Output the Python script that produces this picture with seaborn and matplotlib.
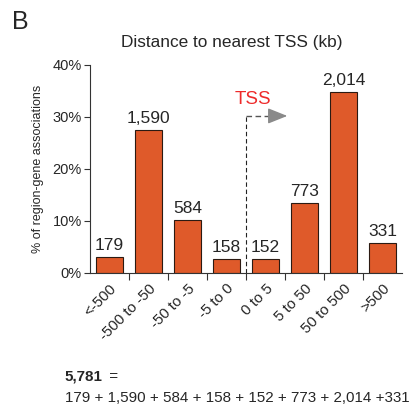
import pandas as pd
import matplotlib
matplotlib.use('Agg')
import matplotlib.pyplot as plt
import seaborn as sns

sns.set_theme(style="white")
plt.rcParams['font.family'] = ['Liberation Sans', 'DejaVu Sans']

# Data
categories = ['<-500', '-500 to -50', '-50 to -5', '-5 to 0', '0 to 5', '5 to 50', '50 to 500', '>500']
counts = [179, 1590, 584, 158, 152, 773, 2014, 331]
total = 5781

df = pd.DataFrame({'bin': categories, 'count': counts})
df['pct'] = df['count'] / total * 100

fig = plt.figure(figsize=(4.1, 4.16), dpi=100)
ax = fig.add_axes([0.2195, 0.3438, 0.761, 0.5])

sns.barplot(data=df, x='bin', y='pct', order=categories, color='#df5a2a',
            saturation=1, width=0.7, edgecolor='#2b1a12', linewidth=0.8, ax=ax)

ax.bar_label(ax.containers[0], labels=[f"{c:,}" for c in counts], padding=3, fontsize=12.5)

ax.set_xlim(-0.5, 7.5)
ax.set_ylim(0, 40)
ax.set_yticks([0, 10, 20, 30, 40])
ax.set_yticklabels(['0%', '10%', '20%', '30%', '40%'], fontsize=10.5)
ax.set_xticks(range(len(categories)))
ax.set_xticklabels(categories, rotation=45, ha='right', rotation_mode='anchor', fontsize=10.8)
ax.set_xticks([i + 0.5 for i in range(7)], minor=True)
ax.tick_params(axis='x', which='major', length=0, pad=6)
ax.tick_params(axis='x', which='minor', length=5, width=0.8, color='#333333', direction='out', bottom=True)
ax.tick_params(axis='y', length=4, width=0.8, color='#333333', direction='out', left=True, pad=2)
ax.set_xlabel('')
ax.set_ylabel('% of region-gene associations', fontsize=9, labelpad=6)

for s in ['top', 'right']:
    ax.spines[s].set_visible(False)
for s in ['left', 'bottom']:
    ax.spines[s].set_color('#333333')
    ax.spines[s].set_linewidth(0.8)

# TSS marker
tss_y = 30.2
ax.plot([3.5, 3.5], [0, tss_y], ls='--', color='#222222', lw=0.8, dashes=(4, 2.5))
ax.plot([3.5, 4.2], [tss_y, tss_y], ls='--', color='#555555', lw=1, dashes=(4, 2.5))
ax.annotate('', xy=(4.63, tss_y), xytext=(4.18, tss_y),
            arrowprops=dict(arrowstyle='-|>,head_length=1.0,head_width=0.4', color='#8a8a8a', lw=1))
ax.text(3.68, 33.3, 'TSS', color='#ee2a2a', fontsize=13.5, ha='center', va='center')

fig.text(0.566, 0.899, 'Distance to nearest TSS (kb)', ha='center', va='center', fontsize=12.4)
fig.text(0.03, 0.947, 'B', ha='left', va='center', fontsize=18)

fs = 10.9
fig.text(0.158, 0.094, '5,781', fontweight='bold', ha='left', va='center', fontsize=fs)
fig.text(0.158 + 0.097, 0.094, ' =', ha='left', va='center', fontsize=fs)
fig.text(0.158, 0.043, ' + '.join(f"{c:,}" for c in counts[:-1]) + f" +{counts[-1]:,}",
         ha='left', va='center', fontsize=fs)

fig.savefig('out.png', dpi=100)
